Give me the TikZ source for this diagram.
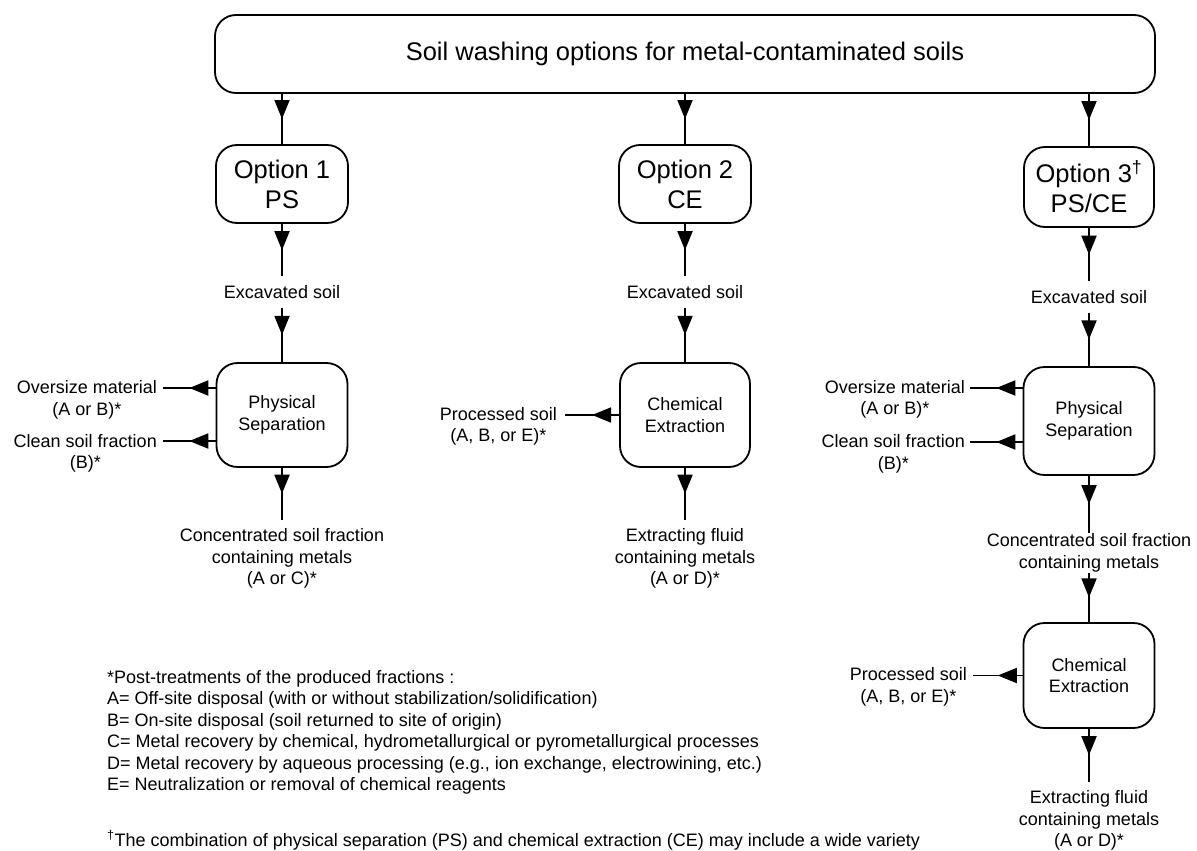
\documentclass[tikz,border=0pt]{standalone}
\usepackage{fontspec}
\setmainfont{Liberation Sans}
\usetikzlibrary{arrows.meta,decorations.markings,positioning}

\begin{document}
\begin{tikzpicture}[x=1pt,y=-1pt,
    sm/.style={font=\fontsize{18}{21.5}\selectfont},
    big/.style={font=\fontsize{25.5}{30}\selectfont},
    box/.style={draw,line width=1.8pt,rounded corners=21pt,align=center,inner sep=0pt},
    txt/.style={sm,align=center,inner sep=0pt,outer sep=9pt},
    side/.style={sm,align=center,inner sep=0pt,anchor=base east},
    flow/.style={line width=1.8pt,postaction={decorate},decoration={markings,
        mark=at position 0.5 with {\arrow{Triangle[length=19pt,width=15pt]}}}}]
  \useasboundingbox (0,0) rectangle (1197,851);

  \node[box,big,minimum width=940pt,minimum height=78pt] (top) at (685,54) {Soil washing options for metal-contaminated soils};

  % the three options
  \node[box,big,minimum width=132pt,minimum height=78pt] (opt1) at (282,184) {Option 1\\PS};
  \node[box,big,minimum width=132pt,minimum height=78pt] (opt2) at (685,184) {Option 2\\CE};
  \node[box,big,minimum width=130pt,minimum height=80pt] (opt3) at (1089,187) {Option 3\textsuperscript{\textdagger}\\PS/CE};

  \node[txt,anchor=base] (exc1) at (282,298.5) {Excavated soil};
  \node[txt,anchor=base] (exc2) at (685,298.5) {Excavated soil};
  \node[txt,anchor=base] (exc3) at (1089,303.5) {Excavated soil};

  \node[box,sm,minimum width=131pt,minimum height=104pt] (ps1) at (282,415) {Physical\\Separation};
  \node[box,sm,minimum width=130pt,minimum height=104pt] (ce2) at (685,415) {Chemical\\Extraction};
  \node[box,sm,minimum width=131pt,minimum height=108pt] (ps3) at (1089,421) {Physical\\Separation};
  \node[box,sm,minimum width=131pt,minimum height=105pt] (ce3) at (1089,675.5) {Chemical\\Extraction};

  % outputs below the boxes
  \node[txt,anchor=north] (conc1) at (282,519.5) {Concentrated soil fraction\\containing metals\\(A or C)*};
  \node[txt,anchor=north] (fluid2) at (685,519.5) {Extracting fluid\\containing metals\\(A or D)*};
  \node[txt,anchor=north,outer sep=1pt] (conc3) at (1089,532.5) {Concentrated soil fraction\\containing metals};
  \node[txt,anchor=north] (fluid3) at (1089,781.5) {Extracting fluid\\containing metals\\(A or D)*};

  % outputs to the side (base is the last line)
  \coordinate (o1) at (163,388);
  \coordinate (c1) at (163,441);
  \coordinate (p2) at (565,415);
  \coordinate (o3) at (970,388);
  \coordinate (c3) at (970,442);
  \coordinate (p3) at (973,675.5);
  \node[side] (over1) at ([shift={(-6,27)}]o1) {Oversize material\\(A or B)*};
  \node[side] (clean1) at ([shift={(-6,27.5)}]c1) {Clean soil fraction\\(B)*};
  \node[side] (proc2) at ([shift={(-8,26.5)}]p2) {Processed soil\\(A, B, or E)*};
  \node[side] (over3) at ([shift={(-5,26.5)}]o3) {Oversize material\\(A or B)*};
  \node[side] (clean3) at ([shift={(-5,27)}]c3) {Clean soil fraction\\(B)*};
  \node[side] (proc3) at ([shift={(-6,26.5)}]p3) {Processed soil\\(A, B, or E)*};

  \foreach \i in {1,2,3}
    \draw[flow] (top.south -| opt\i) -- (opt\i.north);
  \foreach \i in {1,2,3}
    \draw[flow] (opt\i.south) -- (exc\i.north);
  \draw[flow] (exc1.south) -- (ps1.north);
  \draw[flow] (exc2.south) -- (ce2.north);
  \draw[flow] (exc3.south) -- (ps3.north);
  \draw[flow] (ps1.south) -- (conc1.north);
  \draw[flow] (ce2.south) -- (fluid2.north);
  \draw[flow] (ps3.south) -- (conc3.north);
  \draw[flow] (conc3.south) -- (ce3.north);
  \draw[flow] (ce3.south) -- (fluid3.north);
  \draw[flow] (ps1.west |- o1) -- (o1);
  \draw[flow] (ps1.west |- c1) -- (c1);
  \draw[flow] (ce2.west |- p2) -- (p2);
  \draw[flow] (ps3.west |- o3) -- (o3);
  \draw[flow] (ps3.west |- c3) -- (c3);
  \draw[flow] (ce3.west |- p3) -- (p3);

  % footnotes
  \node[sm,align=left,anchor=north west,inner sep=0pt] (notes) at (107,670) {*Post-treatments of the produced fractions :\\
    A= Off-site disposal (with or without stabilization/solidification)\\
    B= On-site disposal (soil returned to site of origin)\\
    C= Metal recovery by chemical, hydrometallurgical or pyrometallurgical processes\\
    D= Metal recovery by aqueous processing (e.g., ion exchange, electrowining, etc.)\\
    E= Neutralization or removal of chemical reagents};
  \node[sm,anchor=base west,inner sep=0pt] (dagnote) at (107,846) {\textsuperscript{\textdagger}The combination of physical separation (PS) and chemical extraction (CE) may include a wide variety};
\end{tikzpicture}
\end{document}
